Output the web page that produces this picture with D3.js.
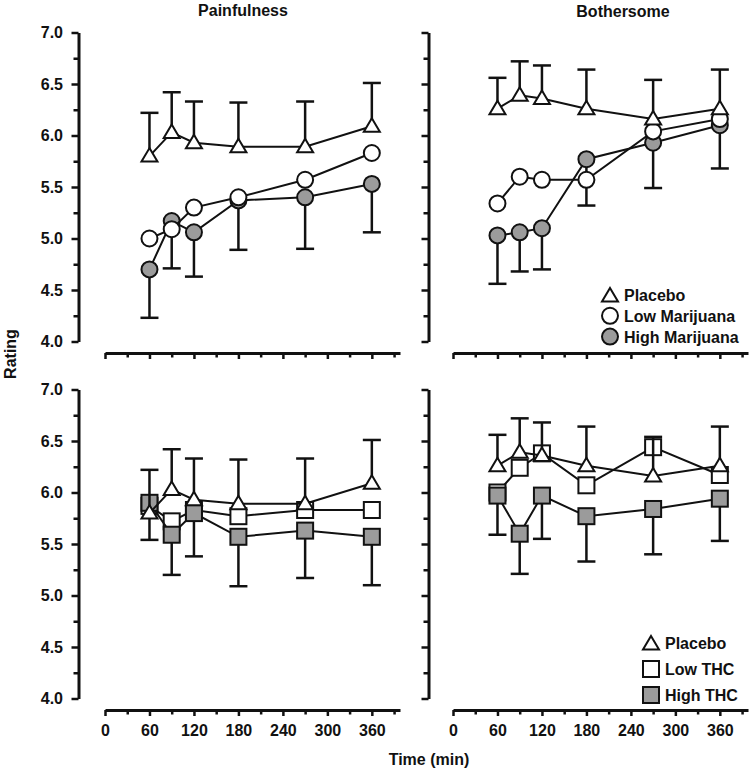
<!DOCTYPE html>
<html>
<head>
<meta charset="utf-8">
<script src="https://cdn.jsdelivr.net/npm/d3@7"></script>
<style>
  body { margin: 0; background: #fff; }
  text { font-family: "Liberation Sans", Arial, Helvetica, sans-serif; font-weight: bold; fill: #111; }
</style>
</head>
<body>
<script>
// time points (min)
var times = [60, 90, 120, 180, 270, 360];

// painfulness, marijuana
var painPlacebo    = [5.80, 6.03, 5.93, 5.89, 5.89, 6.09];
var painPlaceboErr = [0.42, 0.39, 0.40, 0.43, 0.44, 0.42];
var painLowMj      = [5.00, 5.09, 5.30, 5.40, 5.57, 5.83];
var painHighMj     = [4.70, 5.17, 5.06, 5.37, 5.40, 5.53];
var painHighMjErr  = [0.47, 0.46, 0.43, 0.48, 0.50, 0.47];

// bothersome, marijuana
var bothPlacebo    = [6.26, 6.39, 6.36, 6.26, 6.16, 6.26];
var bothPlaceboErr = [0.30, 0.33, 0.32, 0.38, 0.38, 0.38];
var bothLowMj      = [5.34, 5.60, 5.57, 5.57, 6.04, 6.16];
var bothHighMj     = [5.03, 5.06, 5.10, 5.77, 5.93, 6.10];
var bothHighMjErr  = [0.47, 0.38, 0.40, 0.45, 0.44, 0.42];

// THC
var painLowThc     = [5.87, 5.72, 5.83, 5.77, 5.83, 5.83];
var painHighThc    = [5.90, 5.59, 5.80, 5.57, 5.63, 5.57];
var painHighThcErr = [0.36, 0.39, 0.42, 0.48, 0.46, 0.47];
var bothLowThc     = [6.00, 6.24, 6.38, 6.07, 6.44, 6.17];
var bothHighThc    = [5.97, 5.60, 5.97, 5.77, 5.84, 5.94];
var bothHighThcErr = [0.38, 0.39, 0.42, 0.44, 0.44, 0.41];

var yMajor = [4.0, 4.5, 5.0, 5.5, 6.0, 6.5, 7.0];
var yMinor = [4.25, 4.75, 5.25, 5.75, 6.25, 6.75];
var xMajor = [0, 60, 120, 180, 240, 300, 360];
var xMinor = [30, 90, 150, 210, 270, 330, 390];

var legendMj  = ["Placebo", "Low Marijuana", "High Marijuana"];
var legendThc = ["Placebo", "Low THC", "High THC"];

var GRAY = "#9b9b9b";

var svg = d3.select("body").append("svg")
  .attr("width", 750)
  .attr("height", 768);

var panels = [
  { col: 0, row: 0, title: "Painfulness", series: [
      { v: painHighMj, err: painHighMjErr, dir: -1, shape: "circle", fill: GRAY },
      { v: painLowMj, shape: "circle", fill: "#fff" },
      { v: painPlacebo, err: painPlaceboErr, dir: 1, shape: "triangle", fill: "#fff" } ] },
  { col: 1, row: 0, title: "Bothersome", legend: legendMj, legendShape: "circle", series: [
      { v: bothHighMj, err: bothHighMjErr, dir: -1, shape: "circle", fill: GRAY },
      { v: bothLowMj, shape: "circle", fill: "#fff" },
      { v: bothPlacebo, err: bothPlaceboErr, dir: 1, shape: "triangle", fill: "#fff" } ] },
  { col: 0, row: 1, series: [
      { v: painLowThc, shape: "square", fill: "#fff" },
      { v: painHighThc, err: painHighThcErr, dir: -1, shape: "square", fill: GRAY },
      { v: painPlacebo, err: painPlaceboErr, dir: 1, shape: "triangle", fill: "#fff" } ] },
  { col: 1, row: 1, legend: legendThc, legendShape: "square", series: [
      { v: bothLowThc, shape: "square", fill: "#fff" },
      { v: bothHighThc, err: bothHighThcErr, dir: -1, shape: "square", fill: GRAY },
      { v: bothPlacebo, err: bothPlaceboErr, dir: 1, shape: "triangle", fill: "#fff" } ] }
];

function drawMarker(g, shape, fill, cx, cy) {
  if (shape === "circle") {
    g.append("circle").attr("cx", cx).attr("cy", cy).attr("r", 8)
      .attr("fill", fill).attr("stroke", "#111").attr("stroke-width", 2);
  } else if (shape === "square") {
    g.append("rect").attr("x", cx - 8).attr("y", cy - 8).attr("width", 16).attr("height", 16)
      .attr("fill", fill).attr("stroke", "#111").attr("stroke-width", 2);
  } else {
    var p = d3.path();
    p.moveTo(cx, cy - 8);
    p.lineTo(cx + 8, cy + 5.5);
    p.lineTo(cx - 8, cy + 5.5);
    p.closePath();
    g.append("path").attr("d", p.toString())
      .attr("fill", fill).attr("stroke", "#111").attr("stroke-width", 2)
      .attr("stroke-linejoin", "miter");
  }
}

panels.forEach(function(pn) {
  var dx = pn.col * 350, dy = pn.row * 357;
  var x = d3.scaleLinear().domain([0, 398]).range([105 + dx - 2 * pn.col, 400 + dx - 2 * pn.col]);
  var y = d3.scaleLinear().domain([4, 7]).range([341.5 + dy, 32.5 + dy]);
  var axX = 78.5 + dx;
  var axY = 353 + dy;

  var g = svg.append("g");

  // y axis
  var yAxis = g.append("g").attr("transform", "translate(" + axX + ",0)")
    .call(d3.axisLeft(y).tickValues(yMajor).tickSize(7).tickSizeOuter(0)
      .tickFormat(pn.col === 0 ? d3.format(".1f") : function() { return ""; }));
  g.append("g").attr("transform", "translate(" + axX + ",0)")
    .call(d3.axisLeft(y).tickValues(yMinor).tickSize(5).tickSizeOuter(0).tickFormat(""))
    .select(".domain").remove();

  // x axis
  var xAxis = g.append("g").attr("transform", "translate(0," + axY + ")")
    .call(d3.axisBottom(x).tickValues(xMajor).tickSize(6).tickSizeOuter(0)
      .tickFormat(pn.row === 1 ? d3.format("d") : function() { return ""; }));
  g.append("g").attr("transform", "translate(0," + axY + ")")
    .call(d3.axisBottom(x).tickValues(xMinor).tickSize(4.5).tickSizeOuter(0).tickFormat(""))
    .select(".domain").remove();

  g.selectAll(".domain").attr("stroke", "#111").attr("stroke-width", 3);
  g.selectAll(".tick line").attr("stroke", "#111").attr("stroke-width", 2.5);
  g.selectAll(".tick text").attr("font-size", 16).attr("fill", "#111")
    .attr("font-family", "Liberation Sans, Arial, sans-serif").attr("font-weight", "bold");
  yAxis.selectAll(".tick text").attr("x", -15.5);
  xAxis.selectAll(".tick text").attr("y", 15);

  // series
  pn.series.forEach(function(s) {
    var pts = times.map(function(t, i) { return [x(t), y(s.v[i])]; });

    if (s.err) {
      times.forEach(function(t, i) {
        var end = y(s.v[i] + s.dir * s.err[i]);
        g.append("line").attr("x1", x(t)).attr("x2", x(t))
          .attr("y1", y(s.v[i])).attr("y2", end)
          .attr("stroke", "#111").attr("stroke-width", 2.5);
        g.append("line").attr("x1", x(t) - 9).attr("x2", x(t) + 9)
          .attr("y1", end).attr("y2", end)
          .attr("stroke", "#111").attr("stroke-width", 2.5);
      });
    }

    g.append("path").attr("d", d3.line()(pts))
      .attr("fill", "none").attr("stroke", "#111").attr("stroke-width", 2);

    pts.forEach(function(p) { drawMarker(g, s.shape, s.fill, p[0], p[1]); });
  });

  if (pn.title) {
    g.append("text").attr("x", pn.col === 0 ? 243 : 623).attr("y", pn.col === 0 ? 15.5 : 16.5)
      .attr("text-anchor", "middle").attr("font-size", 16).text(pn.title);
  }

  if (pn.legend) {
    var lx = pn.row === 0 ? 610 : 651;
    var ly = pn.row === 0 ? 295 : 643;
    var step = pn.row === 0 ? 20.8 : 26;
    var fills = ["#fff", "#fff", GRAY];
    pn.legend.forEach(function(label, i) {
      var cy = ly + i * step;
      drawMarker(g, i === 0 ? "triangle" : pn.legendShape, fills[i], lx, cy + (i === 0 ? 1 : 0));
      g.append("text").attr("x", lx + 14).attr("y", cy + 6)
        .attr("font-size", 16).text(label);
    });
  }
});

svg.append("text").attr("x", 429).attr("y", 765)
  .attr("text-anchor", "middle").attr("font-size", 16).text("Time (min)");

svg.append("text").attr("transform", "translate(16,354) rotate(-90)")
  .attr("text-anchor", "middle").attr("font-size", 16).text("Rating");
</script>
</body>
</html>
